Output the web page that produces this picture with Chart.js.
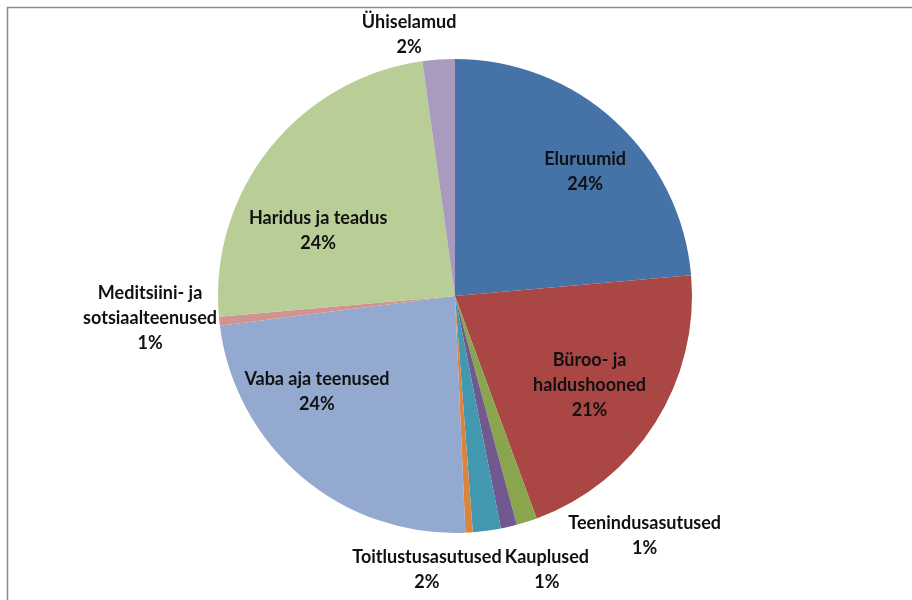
<!DOCTYPE html>
<html>
<head>
<meta charset="utf-8">
<script src="https://cdn.jsdelivr.net/npm/chart.js@4"></script>
<style>
  html, body { margin: 0; padding: 0; background: #fff; }
  #wrap { width: 912px; height: 600px; position: relative; }
</style>
</head>
<body>
<div id="wrap"><canvas id="c" width="912" height="600"></canvas></div>
<script>
// data (share of floor area, %)
const categories = [
  'Eluruumid', 'Büroo- ja haldushooned', 'Teenindusasutused', 'Kauplused',
  'Toitlustusasutused', 'Muu', 'Vaba aja teenused',
  'Meditsiini- ja sotsiaalteenused', 'Haridus ja teadus', 'Ühiselamud'
];
const shares = [23.6, 20.8, 1.4, 1.1, 1.9, 0.5, 23.7, 0.6, 24.2, 2.2];
// label lines as printed (null = no label)
const labelLines = [
  ['Eluruumid'], ['Büroo- ja', 'haldushooned'], ['Teenindusasutused'], ['Kauplused'],
  ['Toitlustusasutused'], null, ['Vaba aja teenused'],
  ['Meditsiini- ja', 'sotsiaalteenused'], ['Haridus ja teadus'], ['Ühiselamud']
];

const colors = ['#4572A7', '#AA4643', '#89A54E', '#71588F', '#4198AF',
                '#DB843D', '#93A9CF', '#D19392', '#B9CD96', '#A99BBD'];
// label placement: radius factor and angle shift (deg) from slice middle
const labelPlace = [
  { r: 0.76, da: 3.8 }, { r: 0.68, da: 1 }, { r: 1.29, da: -20.7 }, { r: 1.22, da: -5.4 },
  { r: 1.16, da: 13.6 }, null, { r: 0.71, da: 15 },
  { r: 1.29, da: 2 }, { r: 0.64, da: -13 }, { r: 1.12, da: -6 }
];

const frame = {
  id: 'frame',
  beforeDraw(chart) {
    const ctx = chart.ctx;
    ctx.save();
    ctx.strokeStyle = '#8c8c8c';
    ctx.lineWidth = 1.5;
    ctx.beginPath();
    ctx.moveTo(7.5, 600);
    ctx.lineTo(7.5, 7.5);
    ctx.lineTo(912, 7.5);
    ctx.stroke();
    ctx.restore();
  }
};

const sliceLabels = {
  id: 'sliceLabels',
  afterDraw(chart) {
    const ctx = chart.ctx;
    const meta = chart.getDatasetMeta(0);
    const total = shares.reduce((a, b) => a + b, 0);
    ctx.save();
    ctx.font = 'bold 18px Lato, "Open Sans", sans-serif';
    ctx.fillStyle = '#111';
    ctx.textAlign = 'center';
    ctx.textBaseline = 'middle';
    meta.data.forEach((arc, i) => {
      if (!labelLines[i]) return;
      const p = labelPlace[i];
      const mid = (arc.startAngle + arc.endAngle) / 2 + p.da * Math.PI / 180;
      const rr = arc.outerRadius * p.r;
      const x = arc.x + Math.cos(mid) * rr;
      const y = arc.y + Math.sin(mid) * rr;
      const lines = labelLines[i].concat([Math.round(shares[i] / total * 100) + '%']);
      const lh = 25;
      const y0 = y - (lines.length - 1) * lh / 2;
      lines.forEach((t, k) => ctx.fillText(t, x, y0 + k * lh));
    });
    ctx.restore();
  }
};

new Chart(document.getElementById('c'), {
  type: 'pie',
  data: {
    labels: categories,
    datasets: [{
      data: shares,
      backgroundColor: colors,
      borderWidth: 0
    }]
  },
  options: {
    responsive: false,
    animation: false,
    layout: { padding: { top: 59, bottom: 67, left: 0, right: 2 } },
    plugins: {
      legend: { display: false },
      tooltip: { enabled: false }
    }
  },
  plugins: [frame, sliceLabels]
});
</script>
</body>
</html>
